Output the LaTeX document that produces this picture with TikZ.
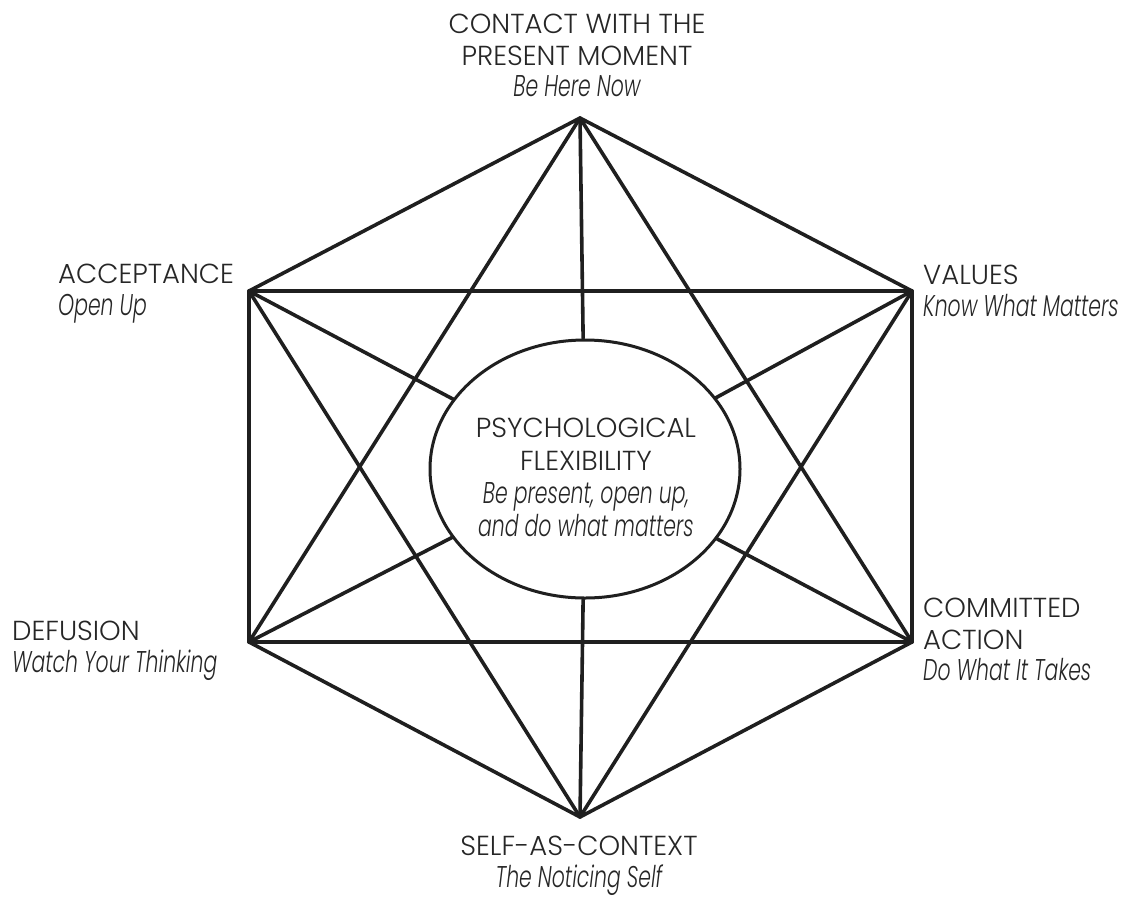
\documentclass[tikz,border=0pt]{standalone}
\usepackage{fontspec}
\setmainfont{Poppins}[UprightFont=* Light, ItalicFont=* Light Italic, ItalicFeatures={FakeStretch=0.68}]
\newcommand\subtl[1]{{\fontsize{30}{31.5}\selectfont\itshape #1}}
\usetikzlibrary{shapes.geometric}
\begin{document}
\begin{tikzpicture}[x=1pt,y=-1pt,
  edge/.style={line width=3.6pt, color=black!88, line cap=round, line join=round},
  lbl/.style={inner sep=0pt, font=\fontsize{27.5}{31.5}\selectfont, text=black!85},
  clbl/.style={inner sep=0pt, font=\fontsize{27.5}{33}\selectfont, text=black!85, align=center}]
\useasboundingbox (0,0) rectangle (1133,898);
\coordinate (T) at (580,118);
\coordinate (UR) at (912,291);
\coordinate (LR) at (912,642);
\coordinate (B) at (580,817);
\coordinate (LL) at (249,642);
\coordinate (UL) at (249,291);
\node[ellipse, draw, line width=3pt, color=black!88, fill=white, minimum width=310pt, minimum height=258pt, inner sep=0pt] (E) at (585,469) {};
% hexagon
\draw[edge] (T) -- (UR) -- (LR) -- (B) -- (LL) -- (UL) -- cycle;
% horizontals
\draw[edge] (UL) -- (UR);
\draw[edge] (LL) -- (LR);
% triangles
\draw[edge] (T) -- (LL);
\draw[edge] (T) -- (LR);
\draw[edge] (B) -- (UL);
\draw[edge] (B) -- (UR);
% spokes
\foreach \v in {T,UR,LR,B,LL,UL} \draw[edge] (\v) -- (E);
% labels
\node[lbl, align=center, anchor=north] (lt) at (577,14) {CONTACT WITH THE\\PRESENT MOMENT\\\subtl{Be Here Now}};
\node[lbl, align=left, anchor=north west] (lul) at (58,264) {ACCEPTANCE\\\subtl{Open Up}};
\node[lbl, align=left, anchor=north west] (lur) at (923,265) {VALUES\\\subtl{Know What Matters}};
\node[lbl, align=left, anchor=north west] (llr) at (923,598) {COMMITTED\\ACTION\\\subtl{Do What It Takes}};
\node[lbl, align=left, anchor=north west] (lll) at (12,621) {DEFUSION\\\subtl{Watch Your Thinking}};
\node[lbl, align=center, anchor=north] (lb) at (579,836) {SELF-AS-CONTEXT\\\subtl{The Noticing Self}};
\node[clbl, anchor=north] (lc) at (586,418) {PSYCHOLOGICAL\\FLEXIBILITY\\\subtl{Be present, open up,}\\\subtl{and do what matters}};
\end{tikzpicture}
\end{document}
